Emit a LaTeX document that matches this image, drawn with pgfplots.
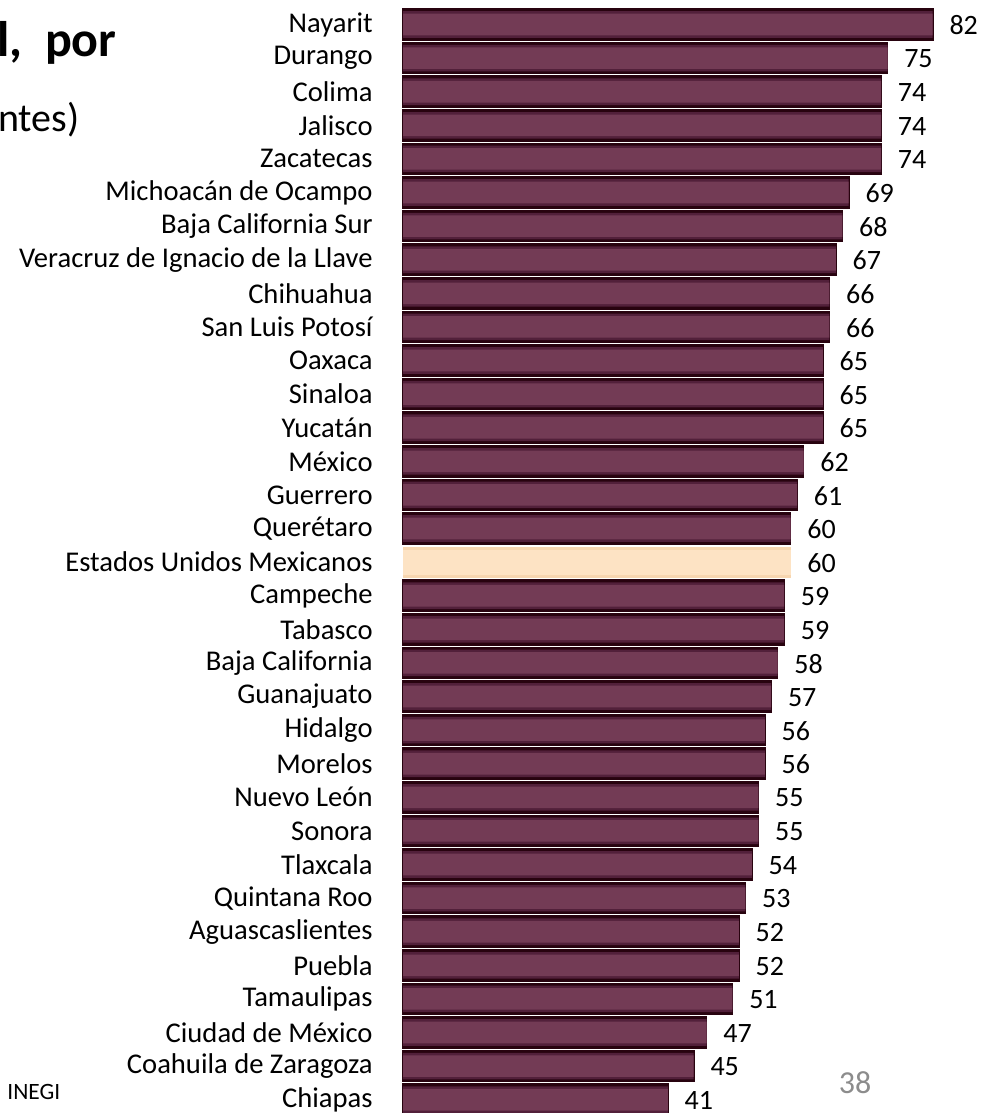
\documentclass[border=0pt]{standalone}
\usepackage{pgfplots}
\pgfplotsset{compat=1.18}
\usepackage{pgfplotstable}
\usepackage{fontspec}
\setmainfont{Carlito}
\definecolor{bardark}{HTML}{28030F}
\definecolor{barmid}{HTML}{733B55}
\definecolor{barmid2}{HTML}{52203A}
\definecolor{peach}{HTML}{FDE3C4}
\definecolor{peachedge}{HTML}{F7D6B0}
\pgfplotstableread{
i v
0 82
1 75
2 74
3 74
4 74
5 69
6 68
7 67
8 66
9 66
10 65
11 65
12 65
13 62
14 61
15 60
17 59
18 59
19 58
20 57
21 56
22 56
23 55
24 55
25 54
26 53
27 52
28 52
29 51
30 47
31 45
32 41
}\states
\pgfplotstableread{
i v
16 60
}\national
\begin{document}
\begin{tikzpicture}
\useasboundingbox (0pt,0pt) rectangle (492pt,556.5pt);
\node[anchor=base east, inner sep=0pt, font=\bfseries\fontsize{25}{30}\selectfont] at (58.5pt,528pt) {l,\ \ por};
\node[anchor=base east, inner sep=0pt, font=\fontsize{20}{24}\selectfont] at (40pt,490.5pt) {ntes)};
\node[anchor=base west, inner sep=0pt, font=\fontsize{11.7}{14}\selectfont] at (3.5pt,6.5pt) {INEGI};
\node[anchor=base, inner sep=0pt, text=black!45, font=\fontsize{16}{18}\selectfont] at (427.5pt,9.5pt) {38};
\begin{axis}[
  at={(201.5pt,-1.75pt)}, anchor=south west,
  scale only axis, width=290.7pt, height=554.4pt,
  xmin=0, xmax=90, ymin=-0.5, ymax=32.5, y dir=reverse,
  hide x axis,
  axis line style={draw=none},
  major tick length=0pt,
  ytick={0,...,32},
  yticklabels={Nayarit,Durango,Colima,Jalisco,Zacatecas,Michoacán de Ocampo,Baja California Sur,Veracruz de Ignacio de la Llave,Chihuahua,San Luis Potosí,Oaxaca,Sinaloa,Yucatán,México,Guerrero,Querétaro,Estados Unidos Mexicanos,Campeche,Tabasco,Baja California,Guanajuato,Hidalgo,Morelos,Nuevo León,Sonora,Tlaxcala,Quintana Roo,Aguascaslientes,Puebla,Tamaulipas,Ciudad de México,Coahuila de Zaragoza,Chiapas},
  yticklabel style={anchor=east, inner sep=0pt, xshift=-15pt, font=\fontsize{14.3}{16}\selectfont, text=black},
  clip=false,
  /pgf/number format/assume math mode=true,
  nodes near coords style={anchor=west, inner sep=0pt, xshift=8.2pt, yshift=-0.4pt, font=\fontsize{14}{16}\selectfont, text=black},
]
\addplot[xbar, bar shift=0pt, bar width=15.5pt, fill=bardark, draw=bardark, line width=0.8pt] table[x=v, y=i]{\states};
\addplot[xbar, bar shift=0pt, bar width=13.3pt, fill=barmid2, draw=none] table[x=v, y=i]{\states};
\addplot[xbar, bar shift=0pt, bar width=10.8pt, fill=barmid, draw=none, point meta=x, nodes near coords] table[x=v, y=i]{\states};
\addplot[xbar, bar shift=0pt, bar width=15.5pt, fill=peachedge, draw=none] table[x=v, y=i]{\national};
\addplot[xbar, bar shift=0pt, bar width=12.5pt, fill=peach, draw=none, point meta=x, nodes near coords] table[x=v, y=i]{\national};
\end{axis}
\end{tikzpicture}
\end{document}
